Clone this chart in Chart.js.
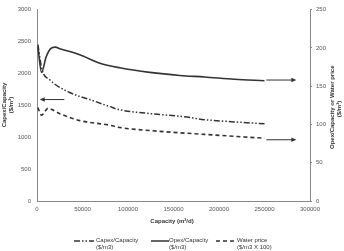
<!DOCTYPE html>
<html><head><meta charset="utf-8">
<script src="https://cdn.jsdelivr.net/npm/chart.js@4/dist/chart.umd.min.js"></script>
<style>
html,body{margin:0;padding:0;background:#fff;}
#wrap{position:relative;width:344px;height:251px;overflow:hidden;font-family:"Liberation Sans",Arial,sans-serif;color:#333;}
canvas{position:absolute;left:0;top:0;}
.t{position:absolute;font-size:6px;font-weight:bold;white-space:nowrap;text-align:center;line-height:7px;}
.lg{position:absolute;font-size:6px;line-height:7px;white-space:nowrap;color:#333;}
svg{position:absolute;}
</style></head>
<body><div id="wrap">
<canvas id="c" width="344" height="232"></canvas>
<div class="t" id="xt" style="left:122px;top:218px;width:100px;">Capacity (m³/d)</div>
<div class="t" style="left:-32px;top:98px;width:80px;transform:rotate(-90deg);">Capex/Capacity<br>($/m³)</div>
<div class="t" style="left:296px;top:102px;width:80px;transform:rotate(-90deg);">Opex/Capacity or Water price<br>($/m³)</div>
<svg style="left:72px;top:238px" width="24" height="6"><line x1="2" y1="3" x2="22" y2="3" stroke="#333" stroke-width="1.5" stroke-dasharray="6,2,1.5,2,1.5,2"/></svg>
<div class="lg" style="left:96px;top:237px;">Capex/Capacity<br>($/m3)</div>
<svg style="left:150px;top:238px" width="20" height="6"><line x1="1" y1="3" x2="19" y2="3" stroke="#333" stroke-width="1.5"/></svg>
<div class="lg" style="left:169px;top:237px;">Opex/Capacity<br>($/m3)</div>
<svg style="left:215px;top:238px" width="22" height="6"><line x1="1" y1="3" x2="21" y2="3" stroke="#333" stroke-width="1.5" stroke-dasharray="4,3"/></svg>
<div class="lg" style="left:237px;top:237px;">Water price<br>($/m3 X 100)</div>
</div>
<script>
const xTicks = [0, 50000, 100000, 150000, 200000, 250000, 300000];
const capexCap = [1000, 5500, 14000, 36000, 58000, 80000, 91000, 124000, 162000, 184000, 217000, 250000];
const capexVal = [2450, 2060, 1900, 1700, 1590, 1480, 1430, 1370, 1320, 1275, 1240, 1210];
const opexCap = [1000, 5000, 10000, 15000, 20000, 25000, 47000, 69000, 91000, 124000, 157000, 184000, 217000, 250000];
const opexVal = [201, 168, 188, 199, 201, 199, 191, 180, 174, 168, 164, 162, 159, 157];
const waterCap = [1000, 5000, 12000, 25000, 47000, 80000, 91000, 124000, 184000, 250000];
const waterVal = [122, 112, 121, 114, 105, 99, 96, 92, 87, 82];
const arrows = [
  {axis: 'y',  from: [30000, 1590], to: [3000, 1590]},
  {axis: 'y1', from: [252000, 158], to: [285000, 158]},
  {axis: 'y1', from: [252000, 80],  to: [285000, 80]}
];
const pts = (xs, ys) => xs.map((x, i) => ({x, y: ys[i]}));
const C = '#333';
const tickFont = {family: '"Liberation Sans", Arial, sans-serif', size: 6};
const plain = v => String(v);
const arrowPlugin = {
  id: 'arrows',
  afterDatasetsDraw(chart) {
    const ctx = chart.ctx, xs = chart.scales.x;
    ctx.save();
    ctx.strokeStyle = C; ctx.fillStyle = C; ctx.lineWidth = 1;
    arrows.forEach(a => {
      const ys = chart.scales[a.axis];
      const x1 = xs.getPixelForValue(a.from[0]), y1 = ys.getPixelForValue(a.from[1]);
      const x2 = xs.getPixelForValue(a.to[0]), y2 = ys.getPixelForValue(a.to[1]);
      const dir = Math.sign(x2 - x1);
      ctx.beginPath(); ctx.moveTo(x1, y1); ctx.lineTo(x2 - dir * 4, y2); ctx.stroke();
      ctx.beginPath(); ctx.moveTo(x2, y2); ctx.lineTo(x2 - dir * 5, y2 - 2.2); ctx.lineTo(x2 - dir * 5, y2 + 2.2); ctx.closePath(); ctx.fill();
    });
    ctx.restore();
  }
};
new Chart(document.getElementById('c'), {
  type: 'line',
  data: {datasets: [
    {label: 'Capex/Capacity ($/m3)', data: pts(capexCap, capexVal), yAxisID: 'y', borderColor: C, borderWidth: 1.5, borderDash: [6, 2, 1.5, 2, 1.5, 2], pointRadius: 0, cubicInterpolationMode: 'monotone', fill: false},
    {label: 'Opex/Capacity ($/m3)', data: pts(opexCap, opexVal), yAxisID: 'y1', borderColor: C, borderWidth: 1.6, pointRadius: 0, cubicInterpolationMode: 'monotone', fill: false},
    {label: 'Water price ($/m3 X 100)', data: pts(waterCap, waterVal), yAxisID: 'y1', borderColor: C, borderWidth: 1.6, borderDash: [4, 3], pointRadius: 0, cubicInterpolationMode: 'monotone', fill: false}
  ]},
  options: {
    responsive: false, animation: false, events: [],
    layout: {padding: {top: 7, left: 0, right: 0, bottom: 0}},
    plugins: {legend: {display: false}, tooltip: {enabled: false}},
    scales: {
      x: {type: 'linear', min: 0, max: 300000,
        afterBuildTicks(s) { s.ticks = xTicks.map(v => ({value: v})); },
        afterFit(s) { s.height = 31; },
        grid: {display: false, drawTicks: false}, border: {color: '#888', width: 1},
        ticks: {font: tickFont, color: '#555', padding: 5, maxRotation: 0, callback: plain}},
      y: {position: 'left', min: 0, max: 3000,
        afterFit(s) { s.width = 37; },
        grid: {display: false, drawTicks: false}, border: {color: '#888', width: 1},
        ticks: {font: tickFont, color: '#555', stepSize: 500, padding: 6, callback: plain}},
      y1: {position: 'right', min: 0, max: 250,
        afterFit(s) { s.width = 34; },
        grid: {display: true, drawOnChartArea: false, drawTicks: true, tickLength: 2, color: '#888'}, border: {color: '#888', width: 1},
        ticks: {font: tickFont, color: '#555', stepSize: 50, padding: 4, callback: plain}}
    }
  },
  plugins: [arrowPlugin]
});
</script>
</body></html>
